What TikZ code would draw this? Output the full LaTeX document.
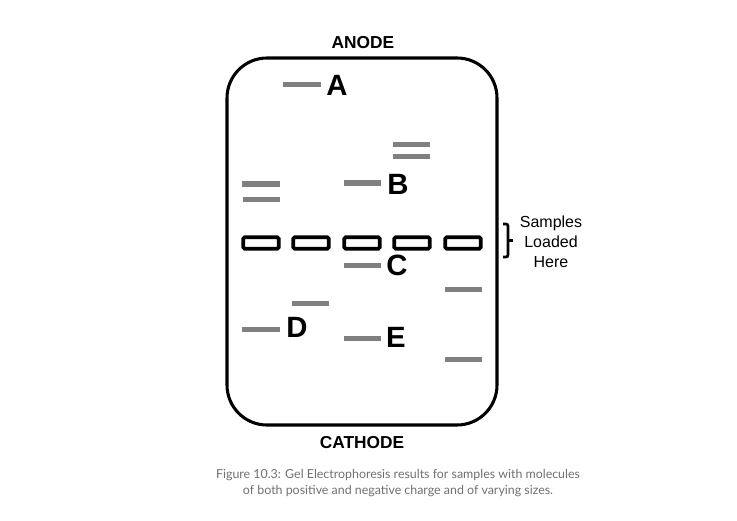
\documentclass[tikz,border=0pt]{standalone}
\usepackage{fontspec}
\setmainfont{Liberation Sans}
\newfontfamily\capfont{Lato}
\definecolor{bandgray}{HTML}{808080}
\definecolor{capgray}{HTML}{707070}
\begin{document}
\begin{tikzpicture}[x=0.75pt,y=-0.75pt,
  band/.style={draw=bandgray,line width=3.75pt},
  well/.style={draw=black,line width=2.8pt,fill=white,rounded corners=1pt},
  lbl/.style={font=\fontsize{22}{24}\selectfont\bfseries,inner sep=0pt},
  pole/.style={font=\fontsize{13}{15}\selectfont\bfseries,inner sep=0pt},
  side/.style={font=\fontsize{12}{15}\selectfont,align=center,inner sep=0pt},
  bracestyle/.style={line width=2pt,rounded corners=1.5pt},
  captext/.style={font=\capfont\fontsize{9.3}{12}\selectfont,text=capgray,align=center,inner sep=0pt}]
\useasboundingbox (0,0) rectangle (737,520);
% gel
\draw[line width=2.3pt,rounded corners=30pt] (227,58) rectangle (497,425);
\node[pole] (anode) at (363,43) {ANODE};
\node[pole] (cathode) at (362,443) {CATHODE};
% wells
\foreach \i/\x in {1/261,2/311,3/362,4/412,5/463}
  \node[well,minimum width=26.5pt,minimum height=8.5pt,inner sep=0pt] (w\i) at (\x,243) {};
% bands
\coordinate (a1) at (283,85); \coordinate (a2) at (321,85);
\draw[band] (a1) -- (a2);
\node[lbl] (A) at (337,85) {A};
\coordinate (p1) at (393,145); \coordinate (p2) at (430,145);
\draw[band] (p1) -- (p2);
\coordinate (q1) at (393,157); \coordinate (q2) at (430,157);
\draw[band] (q1) -- (q2);
\coordinate (r1) at (242,184); \coordinate (r2) at (280,184);
\draw[band] (r1) -- (r2);
\coordinate (s1) at (243,199); \coordinate (s2) at (280,199);
\draw[band] (s1) -- (s2);
\coordinate (b1) at (344,183); \coordinate (b2) at (381,183);
\draw[band] (b1) -- (b2);
\node[lbl] (B) at (398,184) {B};
\coordinate (c1) at (344,265); \coordinate (c2) at (381,265);
\draw[band] (c1) -- (c2);
\node[lbl] (C) at (397,265) {C};
\coordinate (t1) at (445,289); \coordinate (t2) at (482,289);
\draw[band] (t1) -- (t2);
\coordinate (u1) at (292,303); \coordinate (u2) at (329,303);
\draw[band] (u1) -- (u2);
\coordinate (d1) at (242,329); \coordinate (d2) at (280,329);
\draw[band] (d1) -- (d2);
\node[lbl] (D) at (297,327) {D};
\coordinate (e1) at (344,338); \coordinate (e2) at (381,338);
\draw[band] (e1) -- (e2);
\node[lbl] (E) at (396,337) {E};
\coordinate (v1) at (445,359); \coordinate (v2) at (482,359);
\draw[band] (v1) -- (v2);
% brace
\coordinate (br1) at (503,224); \coordinate (br2) at (503,257);
\coordinate (brmid) at (508,240.5); \coordinate (brtip) at (513,240.5);
\draw[bracestyle] (br1) -- (508,224) -- (508,257) -- (br2);
\draw[line width=2pt] (brmid) -- (brtip);
\node[side] (samples) at (551,242) {Samples\\Loaded\\Here};
% caption
\node[captext] (caption) at (398,483) {Figure 10.3: Gel Electrophoresis results for samples with molecules\\of both positive and negative charge and of varying sizes.};
\end{tikzpicture}
\end{document}
